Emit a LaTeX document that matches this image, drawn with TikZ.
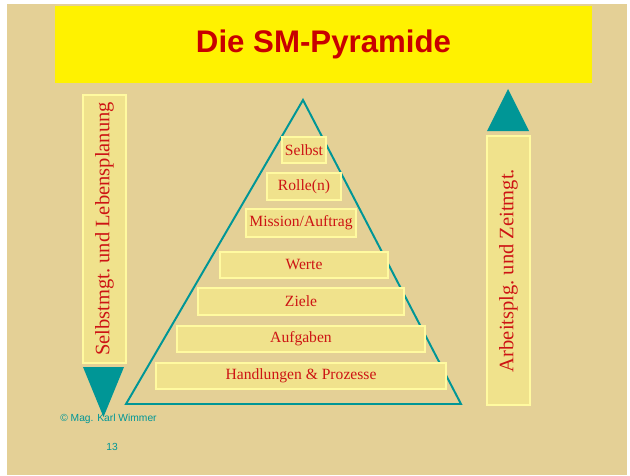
\documentclass[tikz,border=0pt]{standalone}
\usepackage{fontspec}
\setmainfont{Liberation Serif}
\setsansfont{Liberation Sans}
\usepackage{tikz}

\definecolor{papier}{RGB}{228,208,150}
\definecolor{tuerkis}{RGB}{0,150,150}
\definecolor{titelrot}{RGB}{200,0,0}
\definecolor{textrot}{RGB}{205,20,20}
\definecolor{stufenfill}{RGB}{240,226,140}
\definecolor{stufenrand}{RGB}{255,250,160}

\tikzset{
  stufe/.style={draw=stufenrand,line width=1pt,fill=stufenfill,text=textrot,
    font=\fontsize{11.1}{13}\selectfont,inner sep=0pt},
  seite/.style={draw=stufenrand,line width=1pt,fill=stufenfill,text=textrot,
    font=\fontsize{14.6}{17}\selectfont,inner sep=0pt,rotate=90},
  fuss/.style={text=tuerkis,font=\sffamily\fontsize{7.3}{9}\selectfont}
}

\begin{document}
\begin{tikzpicture}[x=0.025cm,y=-0.025cm]

  \useasboundingbox (0,0) rectangle (630,475);
  \fill[white] (0,0) rectangle (630,475);
  \fill[papier] (7,4) rectangle (627,475);

  % titel
  \draw (323.5,44.5) node[fill=yellow,minimum width=13.43cm,minimum height=1.93cm,
    text=titelrot,font=\sffamily\bfseries\fontsize{22.2}{26}\selectfont] (titel) {Die SM-Pyramide};

  % pyramide
  \draw (303,100) coordinate (spitze);
  \draw (126,404) coordinate (links);
  \draw (461,404) coordinate (rechts);
  \draw[tuerkis,line width=1.4pt,line join=miter] (spitze) -- (links) -- (rechts) -- cycle;

  \draw (304,150) node[stufe,minimum width=1.1cm,minimum height=0.65cm] (selbst) {Selbst};
  \draw (304,186.5) node[stufe,minimum width=1.85cm,minimum height=0.67cm] (rolle) {Rolle(n)};
  \draw (301,223) node[stufe,minimum width=2.75cm,minimum height=0.7cm] (mission) {Mission/Auftrag};
  \draw (304,265) node[stufe,minimum width=4.2cm,minimum height=0.65cm] (werte) {Werte};
  \draw (301,301.5) node[stufe,minimum width=5.15cm,minimum height=0.67cm] (ziele) {Ziele};
  \draw (301,339) node[stufe,minimum width=6.2cm,minimum height=0.65cm] (aufgaben) {Aufgaben};
  \draw (301,376) node[stufe,minimum width=7.25cm,minimum height=0.65cm] (handlungen) {Handlungen \& Prozesse};

  % links: nach unten
  \draw (104.5,229) node[seite,minimum width=6.7cm,minimum height=1.08cm] (lebensplanung) {Selbstmgt.\ und Lebensplanung};
  \draw (83,367) coordinate (l1);
  \draw (124,367) coordinate (l2);
  \draw (103.5,417) coordinate (l3);
  \fill[tuerkis] (l1) -- (l2) -- (l3) -- cycle;

  % rechts: nach oben
  \draw (508.5,270.5) node[seite,minimum width=6.72cm,minimum height=1.08cm] (zeitmgt) {Arbeitsplg.\ und Zeitmgt.};
  \draw (487,131) coordinate (r1);
  \draw (529,131) coordinate (r2);
  \draw (508,89) coordinate (r3);
  \fill[tuerkis] (r1) -- (r2) -- (r3) -- cycle;

  % fusszeile
  \draw (108.5,419) node[fuss] (autor) {© Mag. Karl Wimmer};
  \draw (112,447) node[fuss] (seitennr) {13};

\end{tikzpicture}
\end{document}
